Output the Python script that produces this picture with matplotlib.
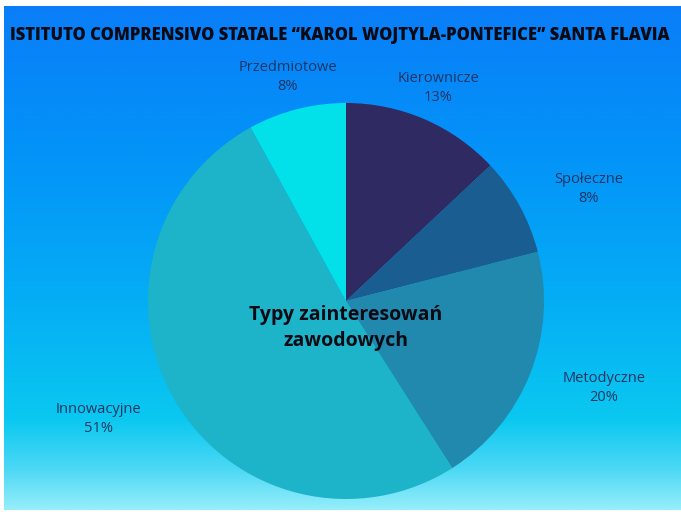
import numpy as np
import matplotlib
matplotlib.use("Agg")
import matplotlib.pyplot as plt
from matplotlib.colors import LinearSegmentedColormap

categories = ["Kierownicze", "Społeczne", "Metodyczne", "Innowacyjne", "Przedmiotowe"]
shares = [13, 8, 20, 51, 8]
colors = ["#2f2a62", "#1a5d90", "#2189ad", "#1db4c9", "#02e0ea"]
title = "ISTITUTO COMPRENSIVO STATALE \u201cKAROL WOJTYLA-PONTEFICE\u201d SANTA FLAVIA"
center_text = "Typy zainteresowań\nzawodowych"

W, H = 681, 512
fig = plt.figure(figsize=(W / 100, H / 100), dpi=100)
fig.patch.set_facecolor("white")
ax = fig.add_axes([0, 0, 1, 1])

# background gradient (top blue -> bottom light cyan)
bg = LinearSegmentedColormap.from_list("bg", [
    (0.0, "#0a7ef8"), (0.30, "#0394f8"), (0.58, "#05adf5"),
    (0.82, "#0ac8f0"), (0.92, "#4cd8f5"), (1.0, "#95eefa")])
grad = np.linspace(0, 1, 256).reshape(-1, 1)
ax.imshow(grad, cmap=bg, aspect="auto", extent=[4, W, 2, H - 6], zorder=0)

cx, cy, R = 346, H - 301, 198
wedges, _ = ax.pie(shares, colors=colors, startangle=90, counterclock=False,
                   radius=R, center=(cx, cy), frame=True,
                   wedgeprops=dict(linewidth=0))
for w in wedges:
    w.set_zorder(2)

# outside labels: horizontal / vertical distance factors per label
label_rx = [1.17, 1.40, 1.40, 1.45, 1.18]
label_ry = [1.17, 1.17, 1.19, 1.17, 1.17]
for w, name, v, rx, ry in zip(wedges, categories, shares, label_rx, label_ry):
    th = np.deg2rad((w.theta1 + w.theta2) / 2)
    x = cx + rx * R * np.cos(th)
    y = cy + ry * R * np.sin(th)
    ax.text(x, y, f"{name}\n{v}%", ha="center", va="center", fontsize=10.5,
            family="Open Sans", color="#1b3563", linespacing=1.35, zorder=3)

ax.text(cx, cy - 27, center_text, ha="center", va="center", fontsize=14,
        family="Open Sans", weight="bold", color="#0a0a14", linespacing=1.45, zorder=3)
ax.text(W / 2 - 1, H - 35, title, ha="center", va="center", fontsize=12,
        family="Open Sans", weight="heavy", color="#0a0a14", zorder=3)

ax.set_xlim(0, W)
ax.set_ylim(0, H)
ax.set_aspect("auto")
ax.axis("off")
fig.savefig("out.png", dpi=100, facecolor="white")
